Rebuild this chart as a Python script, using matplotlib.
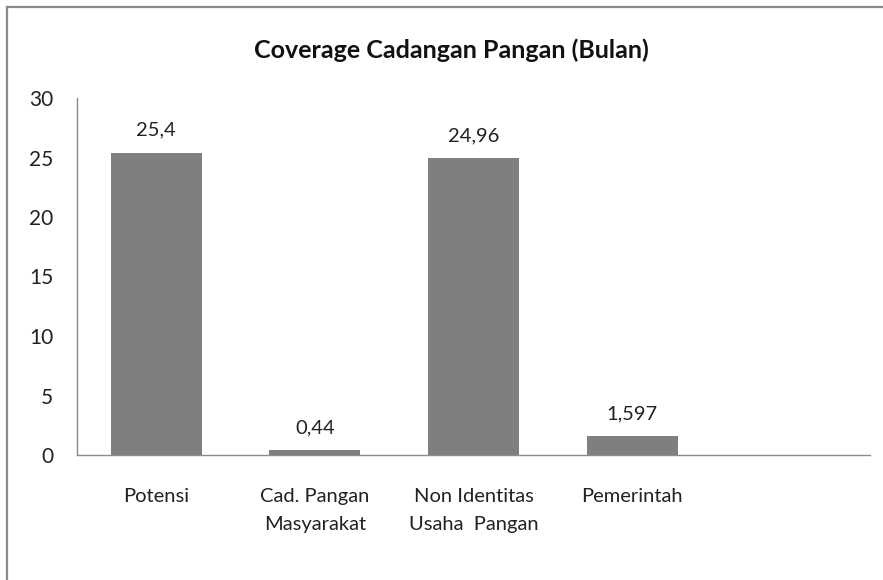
import matplotlib
matplotlib.use("Agg")
import matplotlib.pyplot as plt
from matplotlib.lines import Line2D

categories = ["Potensi", "Cad. Pangan\nMasyarakat", "Non Identitas\nUsaha  Pangan", "Pemerintah", ""]
values = [25.4, 0.44, 24.96, 1.597, None]
value_labels = ["25,4", "0,44", "24,96", "1,597", ""]
yticks = [0, 5, 10, 15, 20, 25, 30]

plt.rcParams['font.family'] = ['Lato', 'DejaVu Sans']

W, H = 883, 580
fig = plt.figure(figsize=(W / 100, H / 100), dpi=100)
ax = fig.add_axes([77 / W, 1 - 455 / H, (870 - 77) / W, (455 - 98) / H])

xs = list(range(len(categories)))
for x, v, lab in zip(xs, values, value_labels):
    if v is None:
        continue
    ax.bar(x, v, width=0.575, color="#7f7f7f", zorder=2)
    ax.annotate(lab, (x, v), xytext=(0, 10), textcoords="offset points",
                ha="center", va="bottom", fontsize=14.5, color="#222222")

ax.set_xlim(-0.5, len(categories) - 0.5)
ax.set_ylim(0, 30)
ax.set_yticks(yticks)
ax.set_yticklabels([str(t) for t in yticks], fontsize=15, color="#222222")
ax.set_xticks(xs)
ax.set_xticklabels(categories, fontsize=14.5, color="#222222", linespacing=1.75)
ax.tick_params(axis="y", length=0, pad=17)
ax.tick_params(axis="x", length=0, pad=24)
for lab in ax.get_xticklabels():
    lab.set_verticalalignment("top")

for s in ["top", "right"]:
    ax.spines[s].set_visible(False)
for s in ["left", "bottom"]:
    ax.spines[s].set_color("#8c8c8c")
    ax.spines[s].set_linewidth(1.0)

fig.text(451 / W, 1 - 50 / H, "Coverage Cadangan Pangan (Bulan)", ha="center", va="center",
         fontsize=18, fontweight="bold", color="#111111")

# outer frame (left and top edges visible)
fig.add_artist(Line2D([7 / W, 7 / W], [0, 1 - 7 / H], transform=fig.transFigure,
                      color="#8a8a8a", linewidth=1.6))
fig.add_artist(Line2D([7 / W, 1], [1 - 7 / H, 1 - 7 / H], transform=fig.transFigure,
                      color="#8a8a8a", linewidth=1.6))

fig.savefig("out.png", dpi=100)
